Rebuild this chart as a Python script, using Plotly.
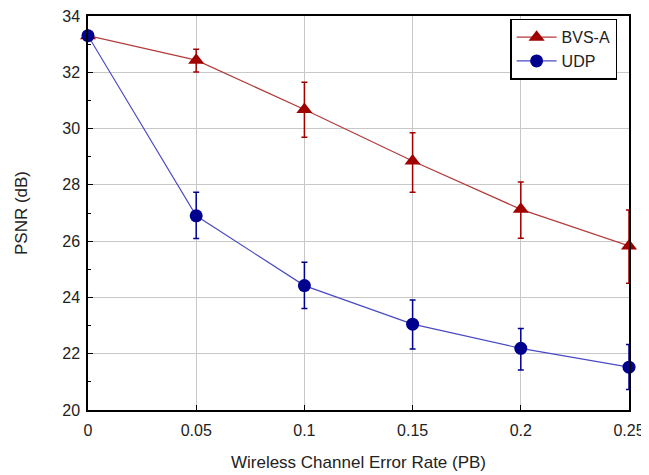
import plotly.graph_objects as go

x_vals = [0, 0.05, 0.1, 0.15, 0.2, 0.25]
bvs_psnr = [33.30, 32.43, 30.68, 28.85, 27.13, 25.83]
bvs_hi = [33.30, 32.82, 31.65, 29.85, 28.10, 27.11]
bvs_lo = [33.30, 32.01, 29.69, 27.74, 26.10, 24.50]
udp_psnr = [33.30, 26.90, 24.42, 23.05, 22.19, 21.52]
udp_hi = [33.30, 27.74, 25.25, 23.91, 22.90, 22.33]
udp_lo = [33.30, 26.09, 23.61, 22.17, 21.42, 20.73]

x_ticks = [0, 0.05, 0.1, 0.15, 0.2, 0.25]
x_labels = ["0", "0.05", "0.1", "0.15", "0.2", "0.25"]
y_ticks = [20, 22, 24, 26, 28, 30, 32, 34]

fig = go.Figure()

def add_series(name, y, hi, lo, color, line_color, symbol, size):
    fig.add_trace(go.Scatter(
        x=x_vals, y=y, name=name, mode="lines+markers",
        line=dict(color=line_color, width=1.2),
        marker=dict(symbol=symbol, size=size, color=color),
        error_y=dict(type="data", symmetric=False,
                     array=[h - v for h, v in zip(hi, y)],
                     arrayminus=[v - l for v, l in zip(y, lo)],
                     color=color, thickness=1.5, width=3),
        cliponaxis=False,
    ))

add_series("BVS-A", bvs_psnr, bvs_hi, bvs_lo, "#a00000", "#b33a3a", "triangle-up", 14)
add_series("UDP", udp_psnr, udp_hi, udp_lo, "#00008f", "#4a4ac4", "circle", 13)

axis_common = dict(showline=True, linecolor="black", linewidth=1.5, mirror=True,
                   showgrid=True, gridcolor="#c8c8c8", gridwidth=1, automargin=False,
                   ticks="inside", ticklen=5, tickcolor="black", zeroline=False,
                   ticklabeloverflow="allow",
                   tickfont=dict(size=16, color="#222"))

fig.update_xaxes(range=[0, 0.25], tickvals=x_ticks, ticktext=x_labels, ticklabelstandoff=5,
                 title=dict(text="Wireless Channel Error Rate (PB)", font=dict(size=17, color="#222"), standoff=18),
                 **axis_common)
fig.update_yaxes(range=[20, 34], tickvals=y_ticks, ticklabelstandoff=3,
                 minor=dict(dtick=1, ticks="inside", ticklen=3, tickcolor="black", showgrid=False),
                 title=dict(text="PSNR (dB)", font=dict(size=17, color="#222"), standoff=30),
                 **axis_common)

# page body has an 8px default margin, so the figure is sized 8px smaller
fig.update_layout(
    width=641, height=467,
    margin=dict(l=80, r=20, t=8, b=65, autoexpand=False),
    paper_bgcolor="white", plot_bgcolor="white",
    font=dict(family="Liberation Sans, Arial, sans-serif", size=16, color="#222"),
    showlegend=True,
    legend=dict(x=0.978, y=0.993, xanchor="right", yanchor="top",
                bgcolor="white", bordercolor="black", borderwidth=1.5,
                font=dict(size=16), tracegroupgap=0, itemwidth=40),
)

fig.write_html("out.html")
